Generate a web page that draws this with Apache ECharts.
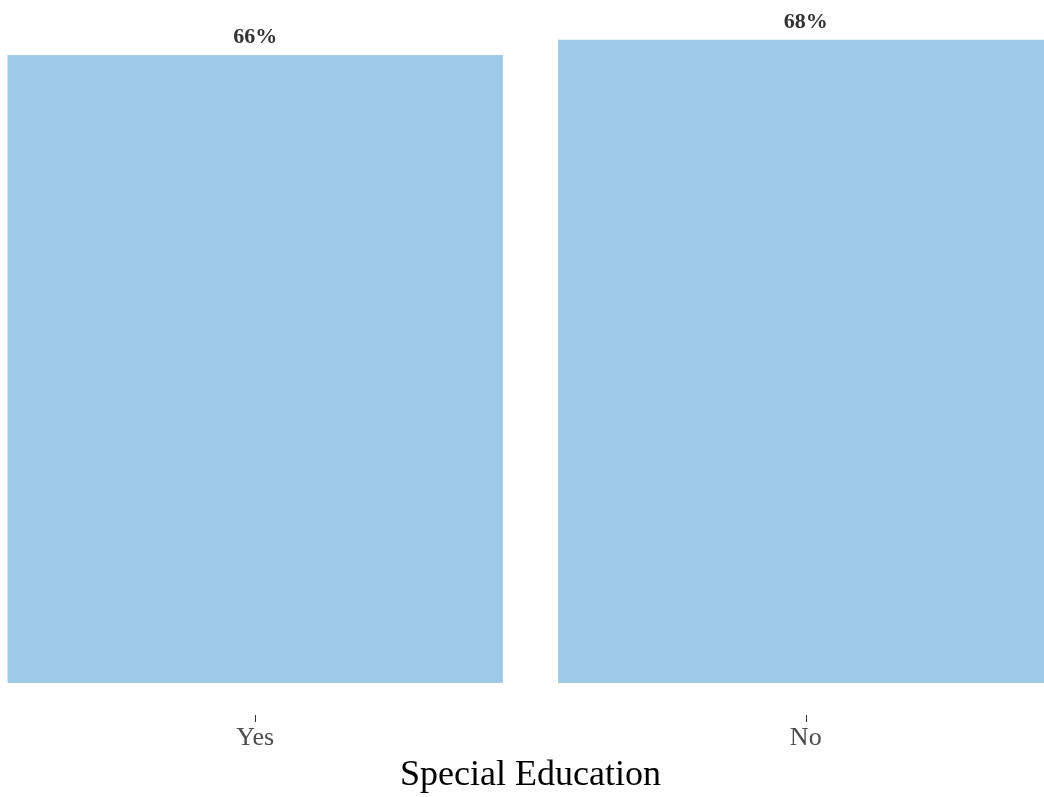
<!DOCTYPE html>
<html><head><meta charset="utf-8">
<script src="https://cdn.jsdelivr.net/npm/echarts@6/dist/echarts.min.js"></script>
<style>html,body{margin:0;padding:0;background:#fff}#c{width:1044px;height:797px}</style>
</head><body><div id="c"></div>
<script>
const categories = ["Yes", "No"];
const values = [66.2, 67.8];
const axisTitle = "Special Education";

const chart = echarts.init(document.getElementById('c'), null, {renderer: 'canvas'});
chart.setOption({
  animation: false,
  backgroundColor: '#ffffff',
  grid: {left: -20, right: -37, top: 19, bottom: 82, containLabel: false, outerBoundsMode: 'none'},
  xAxis: {
    type: 'category',
    data: categories,
    axisLine: {show: false, onZero: false},
    axisTick: {show: true, alignWithLabel: true, length: 7, lineStyle: {color: '#333333', width: 1}},
    axisLabel: {margin: 10, color: '#4d4d4d', fontFamily: 'Liberation Serif', fontSize: 26},
    name: axisTitle,
    nameLocation: 'middle',
    nameGap: 43,
    nameMoveOverlap: false,
    nameTextStyle: {color: '#000000', fontFamily: 'Liberation Serif', fontSize: 36}
  },
  yAxis: {type: 'value', min: -3.37, max: 70, show: false, splitLine: {show: false}},
  series: [{
    type: 'bar',
    data: values,
    barWidth: '90%',
    itemStyle: {color: '#a0cbe8'},
    label: {
      show: true, position: 'top', distance: 7,
      formatter: p => Math.round(p.value) + '%',
      color: '#333333', fontFamily: 'Liberation Serif', fontWeight: 'bold', fontSize: 22
    }
  }]
});
</script></body></html>
